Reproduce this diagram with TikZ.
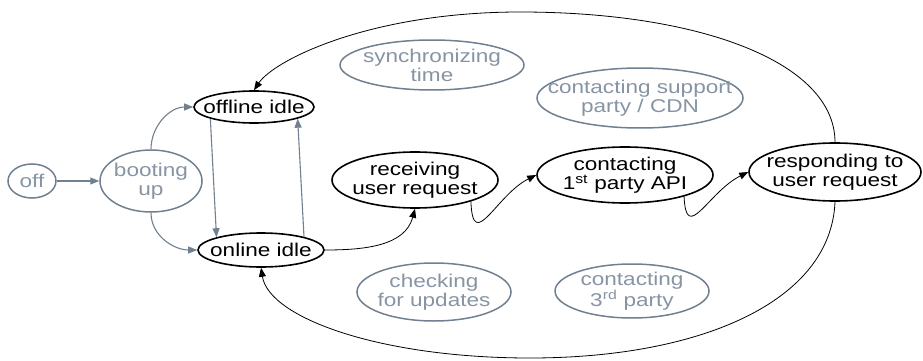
\documentclass[tikz,border=0pt]{standalone}
\usepackage{fontspec}
\setmainfont[FakeStretch=1.22]{Liberation Sans}
\usetikzlibrary{arrows.meta, shapes.geometric}
\definecolor{slate}{HTML}{708090}
\definecolor{slatetext}{HTML}{8794A3}

\begin{document}
\begin{tikzpicture}[x=1pt, y=-1pt,
    state/.style={ellipse, draw, line width=1.6pt, inner xsep=-20pt, inner ysep=-8pt,
      align=center, font=\fontsize{18.5}{19}\selectfont},
    side/.style={state, draw=slate, text=slatetext, line width=1.5pt},
    edge/.style={-{Triangle[length=9pt,width=7pt]}, line width=0.8pt},
    sideedge/.style={-{Triangle[length=9pt,width=7pt]}, draw=slate, line width=1.1pt}]
    \useasboundingbox (0,0) rectangle (923,361);

    % Start-up states (gray)
    \node[side, inner xsep=0pt, minimum width=48, minimum height=34] (off) at (32,181) {off};
    \node[side, minimum width=102, minimum height=62] (boot) at (151,181) {booting\\up};

    % Idle states
    \node[state, minimum width=120, minimum height=32] (offline) at (254,107) {offline idle};
    \node[state, minimum width=126, minimum height=34] (online) at (261,250) {online idle};

    % Request handling chain
    \node[state, minimum width=166, minimum height=56] (recv) at (415,180) {receiving\\user request};
    \node[state, minimum width=176, minimum height=56] (api) at (625,175) {contacting\\1\textsuperscript{st} party API};
    \node[state, minimum width=172, minimum height=58] (resp) at (835,172) {responding to\\user request};

    % Background tasks (gray)
    \node[side, minimum width=184, minimum height=50] (sync) at (432,65) {synchronizing\\time};
    \node[side, minimum width=206, minimum height=60] (cdn) at (640,98) {contacting support\\party / CDN};
    \node[side, minimum width=154, minimum height=58] (upd) at (434,292) {checking\\for updates};
    \node[side, minimum width=154, minimum height=54] (third) at (632,291) {contacting\\3\textsuperscript{rd} party};

    % Gray transitions
    \draw[sideedge] (off) -- (boot);
    \draw[sideedge] (boot.north) to[out=90,in=180] (offline.west);
    \draw[sideedge] (boot.south) to[out=-90,in=180] (online.west);
    \draw[sideedge] (offline.195) -- (online.164);
    \draw[sideedge] (online.17) -- (offline.-15);

    % Request flow
    \draw[edge] (online.east) to[out=0,in=-105] (recv.south);
    \draw[edge] (recv.-21) .. controls +(2,52) and +(-40,20) .. (api.west);
    \draw[edge] (api.-20) .. controls +(2,48) and +(-40,20) .. (resp.west);

    % Back to idle
    \draw[edge] (resp.north) .. controls +(0,-80) and +(180,0) .. (520,12)
        .. controls +(-150,0) and +(20,-30) .. (offline.north);
    \draw[edge] (resp.south) .. controls +(-4,100) and +(170,0) .. (530,358)
        .. controls +(-150,0) and +(8,50) .. (online.south);
\end{tikzpicture}
\end{document}
